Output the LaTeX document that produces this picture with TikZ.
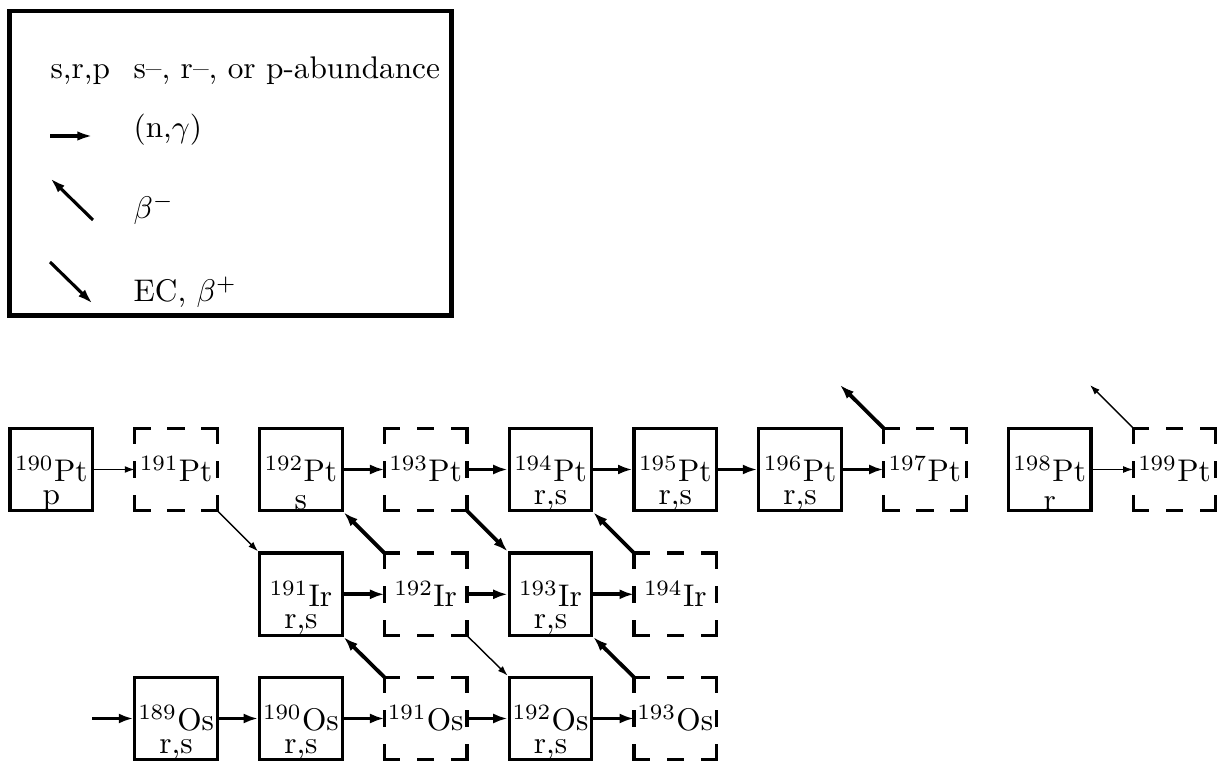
\documentclass[tikz,border=0pt]{standalone}
\usetikzlibrary{arrows.meta}
\tikzset{
 box/.style={draw, line width=1pt, minimum size=26.4pt, inner sep=0pt},
 dbox/.style={minimum size=26.4pt, inner sep=0pt, outer sep=0pt},
 dside/.style={line width=1pt, line cap=rect, dash pattern=on 4.6pt off 6.3pt},
 heavy/.style={line width=1.2pt, -{Latex[length=4.6pt,width=3.2pt]}},
 narrow/.style={line width=0.45pt, -{Latex[length=3.2pt,width=2.2pt]}},
 legarrow/.style={line width=1pt, -{Latex[length=5pt,width=3pt]}},
 legframe/.style={draw, line width=1.3pt},
 txt/.style={inner sep=0pt, anchor=base west},
}
\newcommand\dbx[1]{%
 \draw[dside] (#1.north west) -- (#1.north east);
 \draw[dside] (#1.north east) -- (#1.south east);
 \draw[dside] (#1.south east) -- (#1.south west);
 \draw[dside] (#1.south west) -- (#1.north west);}
\newcommand\nuc[3]{\node[inner sep=0pt, anchor=base] (#1-a) at ([yshift=-3.9pt]#1.center) {$^{#2}$#3};}
\newcommand\abund[2]{\node[inner sep=0pt, anchor=south] (#1-b) at ([yshift=-13.2pt]#1.center) {#2};}
\begin{document}
\begin{tikzpicture}[x=0.3195pt,y=-0.3195pt]
\useasboundingbox (0,0) rectangle (1225,762);
% legend
\draw[legframe] (9.5,11.3) rectangle (451.5,315.5);
\node[txt] (srp) at (50,79) {s,r,p};
\node[txt] (desc) at (133,79) {s--, r--, or p-abundance};
\node[txt] (ng) at (133,138) {(n,$\gamma$)};
\node[txt] (bm) at (133,219) {$\beta^-$};
\node[txt] (ec) at (133,302) {EC, $\beta^+$};
\coordinate (ng1) at (50,136); \coordinate (ng2) at (93,136);
\coordinate (bm1) at (93,220); \coordinate (bm2) at (50,178);
\coordinate (ec1) at (50,262); \coordinate (ec2) at (93,304);
\draw[legarrow] (ng1) -- (ng2);
\draw[legarrow] (bm1) -- (bm2);
\draw[legarrow] (ec1) -- (ec2);
% Pt row
\node[box]  (pt190) at (51.3,469.5) {};
\node[dbox] (pt191) at (176.1,469.5) {};
\node[box]  (pt192) at (300.9,469.5) {};
\node[dbox] (pt193) at (425.7,469.5) {};
\node[box]  (pt194) at (550.5,469.5) {};
\node[box]  (pt195) at (675.3,469.5) {};
\node[box]  (pt196) at (800.1,469.5) {};
\node[dbox] (pt197) at (924.9,469.5) {};
\node[box]  (pt198) at (1049.7,469.5) {};
\node[dbox] (pt199) at (1174.5,469.5) {};
% Ir row
\node[box]  (ir191) at (300.9,594.3) {};
\node[dbox] (ir192) at (425.7,594.3) {};
\node[box]  (ir193) at (550.5,594.3) {};
\node[dbox] (ir194) at (675.3,594.3) {};
% Os row
\node[box]  (os189) at (176.1,718.5) {};
\node[box]  (os190) at (300.9,718.5) {};
\node[dbox] (os191) at (425.7,718.5) {};
\node[box]  (os192) at (550.5,718.5) {};
\node[dbox] (os193) at (675.3,718.5) {};
\dbx{pt191}\dbx{pt193}\dbx{pt197}\dbx{pt199}\dbx{ir192}\dbx{ir194}\dbx{os191}\dbx{os193}
% labels
\nuc{pt190}{190}{Pt}\abund{pt190}{p}
\nuc{pt191}{191}{Pt}
\nuc{pt192}{192}{Pt}\abund{pt192}{s}
\nuc{pt193}{193}{Pt}
\nuc{pt194}{194}{Pt}\abund{pt194}{r,s}
\nuc{pt195}{195}{Pt}\abund{pt195}{r,s}
\nuc{pt196}{196}{Pt}\abund{pt196}{r,s}
\nuc{pt197}{197}{Pt}
\nuc{pt198}{198}{Pt}\abund{pt198}{r}
\nuc{pt199}{199}{Pt}
\nuc{ir191}{191}{Ir}\abund{ir191}{r,s}
\nuc{ir192}{192}{Ir}
\nuc{ir193}{193}{Ir}\abund{ir193}{r,s}
\nuc{ir194}{194}{Ir}
\nuc{os189}{189}{Os}\abund{os189}{r,s}
\nuc{os190}{190}{Os}\abund{os190}{r,s}
\nuc{os191}{191}{Os}
\nuc{os192}{192}{Os}\abund{os192}{r,s}
\nuc{os193}{193}{Os}
% free ends
\coordinate (in189) at (92,718.5);
\coordinate (c197) at (840,385);
\coordinate (c199) at (1090,385);
% (n,gamma)
\draw[narrow] (pt190) -- (pt191);
\draw[heavy] (pt192) -- (pt193);
\draw[heavy] (pt193) -- (pt194);
\draw[heavy] (pt194) -- (pt195);
\draw[heavy] (pt195) -- (pt196);
\draw[heavy] (pt196) -- (pt197);
\draw[narrow] (pt198) -- (pt199);
\draw[heavy] (ir191) -- (ir192);
\draw[heavy] (ir192) -- (ir193);
\draw[heavy] (ir193) -- (ir194);
\draw[heavy] (in189) -- (os189);
\draw[heavy] (os189) -- (os190);
\draw[heavy] (os190) -- (os191);
\draw[heavy] (os191) -- (os192);
\draw[heavy] (os192) -- (os193);
% decays
\draw[narrow] (pt191.south east) -- (ir191.north west);
\draw[heavy] (ir192.north west) -- (pt192.south east);
\draw[heavy] (pt193.south east) -- (ir193.north west);
\draw[heavy] (ir194.north west) -- (pt194.south east);
\draw[heavy] (os191.north west) -- (ir191.south east);
\draw[narrow] (ir192.south east) -- (os192.north west);
\draw[heavy] (os193.north west) -- (ir193.south east);
\draw[heavy] (pt197.north west) -- (c197);
\draw[narrow] (pt199.north west) -- (c199);
\end{tikzpicture}
\end{document}
